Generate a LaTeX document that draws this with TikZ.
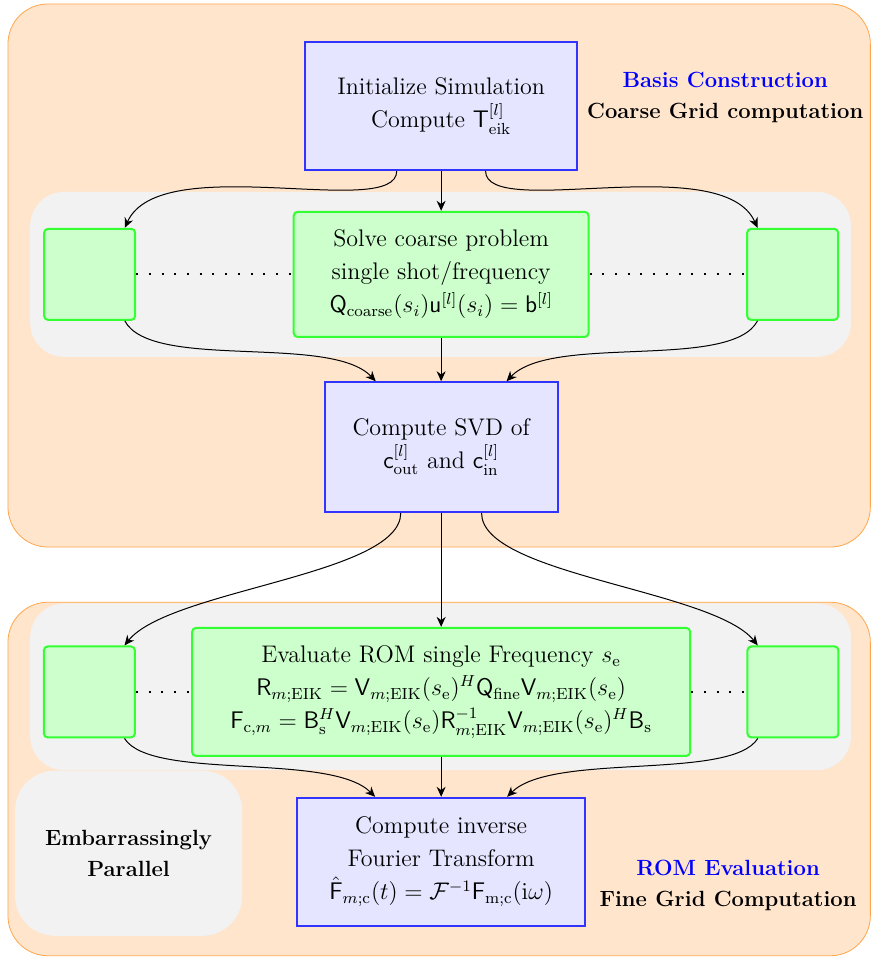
\documentclass[tikz,border=0pt]{standalone}
\usepackage{amsmath}
\usepackage{tikz}
\usetikzlibrary{arrows.meta, positioning}

\begin{document}
\begin{tikzpicture}[
    stage/.style={draw=orange!70, fill=orange!20, rounded corners=0.7cm},
    band/.style={fill=gray!10, rounded corners=0.6cm},
    bluebox/.style={rectangle, draw=blue!80, fill=blue!10, line width=1pt, align=center, font=\fontsize{12}{16.5}\selectfont},
    greenbox/.style={rectangle, draw=green!80, fill=green!20, line width=1pt, rounded corners=2pt, align=center, font=\fontsize{12}{16.5}\selectfont},
    sidebox/.style={greenbox, minimum width=1.6cm, minimum height=1.6cm},
    label/.style={align=center, font=\fontsize{11}{15.5}\selectfont\bfseries},
    arrow/.style={-{Stealth[length=5pt,width=4.5pt]}, line width=0.5pt},
    dotline/.style={line width=1pt, dash pattern=on 1pt off 5.35pt}]
    \useasboundingbox (0,0) rectangle (15.30,-16.83);
    \draw[stage] (0.14,-0.07) rectangle (15.29,-9.61);
    \draw[stage] (0.14,-10.58) rectangle (15.29,-16.79);
    \fill[band] (0.53,-3.37) rectangle (14.95,-6.27);
    \fill[band] (0.53,-10.60) rectangle (14.95,-13.53);

    \node [bluebox, minimum width=4.78cm, minimum height=2.25cm] (init) at (7.75,-1.86)
        {Initialize Simulation\\ Compute $\mathsf{T}^{[l]}_{\mathrm{eik}}$};
    \node [greenbox, below=0.7cm of init, minimum width=5.18cm, minimum height=2.2cm] (solve)
        {Solve coarse problem\\ single shot/frequency\\
         $\mathsf{Q}_{\mathrm{coarse}}(s_i)\mathsf{u}^{[l]}(s_i) = \mathsf{b}^{[l]}$};
    \node [sidebox, left=2.75cm of solve] (lcoarse) {};
    \node [sidebox, right=2.75cm of solve] (rcoarse) {};
    \node [bluebox, below=0.76cm of solve, minimum width=4.09cm, minimum height=2.28cm] (svd)
        {Compute SVD of\\ $\mathsf{c}^{[l]}_{\mathrm{out}}$ and $\mathsf{c}^{[l]}_{\mathrm{in}}$};
    \node [greenbox, below=2.0cm of svd, minimum width=8.75cm, minimum height=2.25cm] (rom)
        {Evaluate ROM single Frequency $s_{\mathrm{e}}$\\
         $\mathsf{R}_{m;\mathrm{EIK}} = \mathsf{V}_{m;\mathrm{EIK}}(s_{\mathrm{e}})^H\mathsf{Q}_{\mathrm{fine}}\mathsf{V}_{m;\mathrm{EIK}}(s_{\mathrm{e}})$\\
         $\mathsf{F}_{\mathrm{c},m} = \mathsf{B}_{\mathrm{s}}^H\mathsf{V}_{m;\mathrm{EIK}}(s_{\mathrm{e}})\mathsf{R}^{-1}_{m;\mathrm{EIK}}\mathsf{V}_{m;\mathrm{EIK}}(s_{\mathrm{e}})^H\mathsf{B}_{\mathrm{s}}$};
    \node [sidebox, left=0.97cm of rom] (lrom) {};
    \node [sidebox, right=0.97cm of rom] (rrom) {};
    \node [bluebox, below=0.7cm of rom, minimum width=5.06cm, minimum height=2.25cm] (ifft)
        {Compute inverse\\ Fourier Transform\\
         $\hat{\mathsf{F}}_{m;\mathrm{c}}(t) = \mathcal{F}^{-1}\mathsf{F}_{\mathrm{m;c}}(\mathrm{i}\omega)$};
    \node [label, fill=gray!10, rounded corners=0.7cm, minimum width=3.99cm, minimum height=2.9cm] (par) at (2.26,-14.99)
        {Embarrassingly\\ Parallel};
    \node [label] (basis) at (12.74,-1.72) {\textcolor{blue}{Basis Construction}\\ Coarse Grid computation};
    \node [label] (eval) at (12.79,-15.56) {\textcolor{blue}{ROM Evaluation}\\ Fine Grid Computation};

    \draw [dotline] (lcoarse) -- (solve);
    \draw [dotline] (solve) -- (rcoarse);
    \draw [dotline] (lrom) -- (rom);
    \draw [dotline] (rom) -- (rrom);

    \draw [arrow] (init) -- (solve);
    \draw [arrow] ([xshift=-0.78cm]init.south) .. controls +(0,-0.88) and +(0.62,1.39) .. ([xshift=-0.2cm]lcoarse.north east);
    \draw [arrow] ([xshift=0.78cm]init.south) .. controls +(0,-0.88) and +(-0.62,1.39) .. ([xshift=0.2cm]rcoarse.north west);
    \draw [arrow] (solve) -- (svd);
    \draw [arrow] ([xshift=-0.2cm]lcoarse.south east) .. controls +(0.47,-0.88) and +(-0.79,0.84) .. ([xshift=-1.15cm]svd.north);
    \draw [arrow] ([xshift=0.2cm]rcoarse.south west) .. controls +(-0.47,-0.88) and +(0.79,0.84) .. ([xshift=1.15cm]svd.north);
    \draw [arrow] (svd) -- (rom);
    \draw [arrow] ([xshift=-0.71cm]svd.south) .. controls +(0,-1.09) and +(0.79,0.98) .. ([xshift=-0.2cm]lrom.north east);
    \draw [arrow] ([xshift=0.71cm]svd.south) .. controls +(0,-1.09) and +(-0.79,0.98) .. ([xshift=0.2cm]rrom.north west);
    \draw [arrow] (rom) -- (ifft);
    \draw [arrow] ([xshift=-0.2cm]lrom.south east) .. controls +(0.47,-0.75) and +(-0.79,0.79) .. ([xshift=-1.16cm]ifft.north);
    \draw [arrow] ([xshift=0.2cm]rrom.south west) .. controls +(-0.47,-0.75) and +(0.79,0.79) .. ([xshift=1.16cm]ifft.north);
\end{tikzpicture}
\end{document}
